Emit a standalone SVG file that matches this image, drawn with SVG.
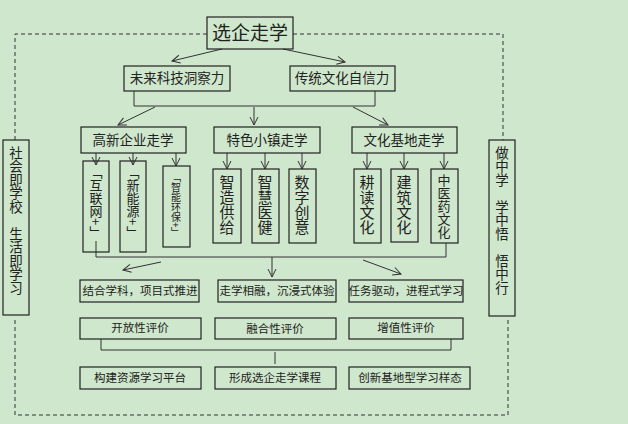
<svg xmlns="http://www.w3.org/2000/svg" width="628" height="424" viewBox="0 0 628 424">
<defs>
<marker id="a" markerWidth="10" markerHeight="10" refX="9" refY="5" orient="auto" markerUnits="userSpaceOnUse"><path d="M1,1 L9,5 L1,9" fill="none" stroke="#333" stroke-width="1"/></marker>
</defs>
<style>
rect{fill:none;stroke:#222;stroke-width:1.2}
text{font-family:"Noto Sans CJK SC","Noto Sans",sans-serif;fill:#222;text-anchor:middle;font-size:11.5px}
.h{font-size:13.5px}
.v{writing-mode:vertical-rl;text-anchor:start;font-size:14px}
.c line,.c path{stroke:#333;stroke-width:1;fill:none}
.d{stroke:#333;stroke-dasharray:4,3;fill:none;stroke-width:1}
</style>
<rect x="0" y="0" width="628" height="424" style="fill:#cfe7cc;stroke:none"/>
<g class="c">
<path class="d" d="M207,34 H15 V140 M15,320 V415 H508 V320 M293,34 H503 V140"/>
<line x1="222" y1="49" x2="172" y2="61" marker-end="url(#a)"/>
<line x1="283" y1="49" x2="345" y2="62" marker-end="url(#a)"/>
<path d="M134,91 V106 H375 V91"/>
<line x1="155" y1="107" x2="118" y2="125" marker-end="url(#a)"/>
<line x1="254" y1="107" x2="254" y2="125" marker-end="url(#a)"/>
<line x1="353" y1="107" x2="388" y2="125" marker-end="url(#a)"/>
<line x1="96" y1="153" x2="96" y2="165" marker-end="url(#a)"/>
<line x1="133" y1="153" x2="133" y2="165" marker-end="url(#a)"/>
<line x1="176" y1="153" x2="176" y2="166" marker-end="url(#a)"/>
<line x1="227" y1="153" x2="227" y2="169" marker-end="url(#a)"/>
<line x1="265" y1="153" x2="265" y2="169" marker-end="url(#a)"/>
<line x1="302" y1="153" x2="302" y2="169" marker-end="url(#a)"/>
<line x1="367" y1="153" x2="367" y2="169" marker-end="url(#a)"/>
<line x1="404" y1="153" x2="404" y2="169" marker-end="url(#a)"/>
<line x1="444" y1="153" x2="444" y2="169" marker-end="url(#a)"/>
<path d="M96,241 V257 H446 V243"/>
<line x1="161" y1="262" x2="123" y2="270" marker-end="url(#a)"/>
<line x1="272" y1="257" x2="272" y2="277" marker-end="url(#a)"/>
<line x1="363" y1="260" x2="401" y2="274" marker-end="url(#a)"/>
<path d="M101,339 V350 H451 V339 M275,352 V364"/>
</g>
<g id="title"><rect x="207" y="17" width="86" height="32"/><text x="250" y="40" style="font-size:19px">选企走学</text></g>
<g id="left"><rect x="3" y="140" width="26" height="175"/><text class="v" x="16" y="146" style="font-size:13.5px">社会即学校　生活即学习</text></g>
<g id="right"><rect x="489" y="140" width="26" height="176"/><text class="v" x="502" y="146" style="font-size:13.5px">做中学　学中悟　悟中行</text></g>
<g id="n1"><rect x="124" y="66" width="106" height="25"/><text class="h" x="177" y="83">未来科技洞察力</text></g>
<g id="n2"><rect x="290" y="66" width="105" height="25"/><text class="h" x="342" y="83">传统文化自信力</text></g>
<g id="n3"><rect x="81" y="127" width="105" height="26"/><text class="h" x="133" y="145">高新企业走学</text></g>
<g id="n4"><rect x="214" y="127" width="106" height="26"/><text class="h" x="267" y="145">特色小镇走学</text></g>
<g id="n5"><rect x="352" y="127" width="105" height="26"/><text class="h" x="404" y="145">文化基地走学</text></g>
<g id="m1"><rect x="83" y="161" width="26" height="91"/><text class="v" x="96" y="166" style="font-size:13px">「互联网+」</text></g>
<g id="m2"><rect x="120" y="161" width="26" height="91"/><text class="v" x="133" y="166" style="font-size:13px">「新能源+」</text></g>
<g id="m3"><rect x="163" y="166" width="27" height="81"/><text class="v" x="176" y="172" style="font-size:10px">「智能环保+」</text></g>
<g id="m4"><rect x="213" y="169" width="28" height="74"/><text class="v" x="227" y="175" style="font-size:15px">智造供给</text></g>
<g id="m5"><rect x="252" y="169" width="27" height="74"/><text class="v" x="265" y="175" style="font-size:15px">智慧医健</text></g>
<g id="m6"><rect x="289" y="169" width="27" height="74"/><text class="v" x="302" y="175" style="font-size:15px">数字创意</text></g>
<g id="m7"><rect x="354" y="169" width="27" height="74"/><text class="v" x="367" y="175" style="font-size:15px">耕读文化</text></g>
<g id="m8"><rect x="391" y="169" width="27" height="73"/><text class="v" x="404" y="175" style="font-size:15px">建筑文化</text></g>
<g id="m9"><rect x="431" y="169" width="27" height="74"/><text class="v" x="444" y="174" style="font-size:13px">中医药文化</text></g>
<g id="r1"><rect x="80" y="280" width="119" height="22"/><text x="140" y="295">结合学科，项目式推进</text></g>
<g id="r2"><rect x="218" y="280" width="118" height="22"/><text x="277" y="295">走学相融，沉浸式体验</text></g>
<g id="r3"><rect x="349" y="280" width="114" height="22"/><text x="406" y="295">任务驱动，进程式学习</text></g>
<g id="e1"><rect x="80" y="318" width="121" height="21"/><text x="140" y="332">开放性评价</text></g>
<g id="e2"><rect x="215" y="318" width="121" height="21"/><text x="275" y="333">融合性评价</text></g>
<g id="e3"><rect x="349" y="318" width="114" height="21"/><text x="406" y="332">增值性评价</text></g>
<g id="f1"><rect x="80" y="367" width="121" height="22"/><text x="140" y="382">构建资源学习平台</text></g>
<g id="f2"><rect x="215" y="367" width="121" height="22"/><text x="275" y="382">形成选企走学课程</text></g>
<g id="f3"><rect x="349" y="367" width="121" height="22"/><text x="410" y="382">创新基地型学习样态</text></g>
</svg>
